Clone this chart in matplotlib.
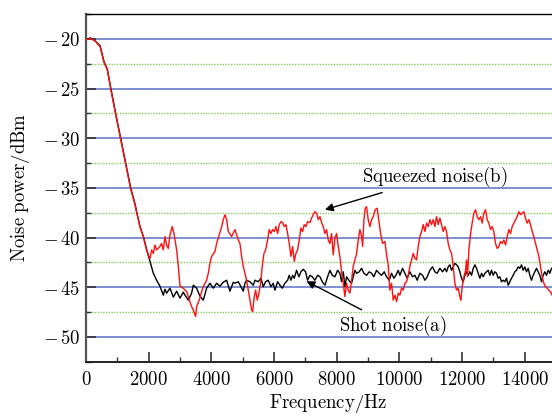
import matplotlib
matplotlib.use("Agg")
import matplotlib.pyplot as plt
from matplotlib.ticker import FuncFormatter, MultipleLocator

plt.rcParams["mathtext.fontset"] = "cm"

# shot noise (a)
freq_a = [0, 130, 290, 450, 575, 680, 787, 946, 1106, 1265, 1425, 1563, 1617, 1722,
          1829, 1935, 2041, 2148, 2254, 2360, 2467, 2520, 2573, 2680, 2786, 2892, 3000,
          3104, 3158, 3264, 3370, 3424, 3530, 3636, 3743, 3849, 3955, 4062, 4168, 4275,
          4380, 4488, 4593, 4700, 4753, 4860, 4966, 5018, 5072, 5125, 5231, 5338, 5391,
          5497, 5582, 5657, 5732, 5816, 5901, 5975, 6028, 6113, 6188, 6262, 6347, 6433,
          6486, 6540, 6593, 6645, 6720, 6794, 6858, 6932, 7006, 7070, 7145, 7219, 7305,
          7390, 7464, 7539, 7624, 7709, 7784, 7858, 7943, 8028, 8102, 8155, 8209, 8262,
          8315, 8368, 8421, 8475, 8527, 8581, 8635, 8719, 8794, 8868, 8953, 9037, 9113,
          9185, 9271, 9356, 9432, 9517, 9591, 9676, 9750, 9824, 9888, 9963, 10016, 10101,
          10176, 10250, 10335, 10420, 10495, 10569, 10654, 10740, 10814, 10888, 10973,
          11058, 11133, 11207, 11292, 11377, 11452, 11505, 11558, 11611, 11665, 11718,
          11771, 11825, 11877, 11930, 11983, 12036, 12090, 12144, 12197, 12250, 12303,
          12356, 12409, 12462, 12515, 12568, 12622, 12675, 12728, 12781, 12834, 12887,
          12940, 12993, 13046, 13099, 13153, 13206, 13259, 13312, 13365, 13418, 13472,
          13525, 13578, 13631, 13684, 13737, 13791, 13844, 13897, 13950, 14003, 14056,
          14110, 14163, 14216, 14269, 14322, 14375, 14429, 14482, 14535, 14588, 14641,
          14694, 14748, 14801, 14854]
noise_a = [-20.1, -19.9, -20.2, -20.7, -22.3, -23.1, -24.9, -27.5, -30.0, -32.5, -35.0,
           -36.6, -37.4, -38.9, -39.9, -41.2, -42.4, -43.6, -44.3, -44.9, -45.8, -45.2,
           -45.6, -45.1, -46.0, -45.4, -46.1, -45.5, -45.8, -46.3, -45.6, -44.8, -45.1,
           -45.9, -46.3, -45.1, -44.6, -45.1, -44.6, -44.9, -44.5, -44.3, -45.4, -44.5,
           -44.6, -44.45, -45.1, -45.4, -44.6, -44.3, -44.45, -44.8, -44.3, -44.45, -44.1,
           -44.95, -44.45, -44.3, -44.95, -44.6, -45.3, -44.45, -44.8, -45.1, -44.6, -44.3,
           -43.8, -44.3, -43.8, -44.1, -43.3, -43.95, -43.45, -43.2, -43.45, -44.3, -43.8,
           -43.95, -44.3, -43.8, -43.95, -44.45, -44.8, -43.95, -43.3, -43.8, -43.95, -43.3,
           -43.6, -44.45, -43.45, -44.95, -43.95, -44.2, -44.45, -44.6, -43.95, -43.3, -43.6,
           -43.45, -43.1, -43.6, -43.8, -43.45, -43.6, -43.95, -43.3, -43.6, -43.8, -43.45,
           -43.95, -44.3, -43.6, -44.1, -43.8, -43.3, -43.8, -43.1, -43.6, -44.1, -43.45,
           -43.95, -43.8, -44.3, -43.6, -43.8, -44.3, -43.95, -43.3, -42.95, -43.45, -43.6,
           -43.1, -43.45, -43.1, -43.45, -42.95, -42.75, -43.3, -42.95, -42.6, -42.75,
           -42.95, -43.45, -44.1, -44.45, -43.8, -43.45, -43.8, -43.45, -43.8, -43.1, -42.75,
           -43.1, -43.6, -44.1, -43.6, -43.95, -43.6, -43.45, -43.3, -43.8, -43.3, -43.8,
           -43.45, -43.6, -44.1, -43.95, -44.45, -44.3, -44.45, -44.1, -44.8, -44.45, -44.1,
           -43.8, -43.45, -43.3, -42.95, -43.1, -42.75, -43.3, -42.95, -43.45, -43.1, -43.8,
           -44.3, -43.8, -43.45, -43.1, -43.45, -43.8, -44.45, -43.8, -43.45, -43.8, -43.3,
           -43.6, -43.1]

# squeezed noise (b)
freq_b = [0, 130, 290, 450, 575, 680, 787, 946, 1106, 1265, 1425, 1563, 1617, 1722,
          1829, 1935, 1988, 2041, 2094, 2148, 2201, 2254, 2360, 2413, 2467, 2520, 2573,
          2626, 2680, 2753, 2807, 2892, 2945, 3000, 3104, 3211, 3295, 3370, 3424, 3498,
          3530, 3636, 3690, 3743, 3849, 3902, 3955, 4009, 4115, 4168, 4221, 4329, 4382,
          4434, 4488, 4541, 4647, 4753, 4860, 4912, 4966, 5018, 5072, 5125, 5178, 5231,
          5285, 5317, 5369, 5413, 5465, 5518, 5571, 5624, 5678, 5732, 5795, 5847, 5901,
          5954, 6007, 6061, 6113, 6166, 6220, 6273, 6327, 6379, 6433, 6486, 6540, 6593,
          6645, 6698, 6752, 6804, 6858, 6911, 6963, 7017, 7070, 7145, 7198, 7251, 7305,
          7358, 7411, 7464, 7517, 7571, 7624, 7677, 7730, 7784, 7837, 7889, 7943, 7996,
          8049, 8102, 8155, 8209, 8262, 8315, 8368, 8421, 8475, 8527, 8581, 8635, 8687,
          8740, 8794, 8826, 8868, 8910, 8953, 9005, 9059, 9113, 9164, 9228, 9292, 9356,
          9400, 9464, 9538, 9591, 9643, 9697, 9750, 9803, 9857, 9910, 9963, 10016, 10070,
          10123, 10176, 10229, 10282, 10335, 10389, 10442, 10495, 10548, 10601, 10654,
          10708, 10760, 10814, 10867, 10920, 10973, 11026, 11080, 11133, 11186, 11239,
          11292, 11345, 11399, 11452, 11505, 11558, 11611, 11665, 11718, 11771, 11825,
          11877, 11930, 11962, 12004, 12058, 12112, 12144, 12176, 12217, 12271, 12322,
          12376, 12430, 12483, 12536, 12589, 12642, 12695, 12749, 12802, 12855, 12908,
          12961, 13014, 13068, 13121, 13174, 13227, 13280, 13333, 13387, 13440, 13493,
          13546, 13599, 13652, 13706, 13759, 13812, 13865, 13918, 13971, 14025, 14078,
          14131, 14184, 14237, 14290, 14344, 14397, 14450, 14503, 14556, 14610, 14663,
          14716, 14769, 14822, 14875]
noise_b = [-20.1, -19.95, -20.2, -20.8, -22.4, -23.0, -25.0, -27.6, -30.1, -32.6, -35.1,
           -36.7, -37.5, -38.9, -39.9, -41.3, -41.75, -42.1, -41.25, -41.6, -40.75, -41.25,
           -40.9, -40.6, -41.25, -39.9, -40.75, -41.1, -39.7, -38.9, -39.6, -41.25, -42.9,
           -44.9, -45.1, -45.45, -46.3, -46.95, -47.3, -47.95, -46.95, -46.1, -45.45, -44.95,
           -44.3, -43.6, -42.6, -41.9, -41.4, -40.6, -40.05, -38.9, -38.2, -37.7, -38.2,
           -39.4, -39.9, -39.2, -40.25, -40.6, -41.9, -42.9, -43.6, -44.3, -45.3, -46.3,
           -47.3, -47.45, -45.95, -45.3, -46.3, -45.6, -44.6, -42.9, -41.6, -41.25, -40.25,
           -39.2, -39.6, -39.2, -39.4, -38.9, -39.6, -38.7, -38.4, -38.5, -38.9, -38.7,
           -39.6, -40.6, -41.9, -40.9, -42.4, -41.6, -41.25, -40.25, -39.05, -39.4, -38.7,
           -38.9, -38.4, -38.5, -38.05, -37.7, -37.4, -37.55, -38.2, -37.9, -38.5, -38.9,
           -39.6, -39.2, -40.25, -40.6, -39.6, -41.75, -40.1, -39.6, -40.9, -41.95, -43.45,
           -44.6, -45.95, -44.6, -45.3, -45.6, -44.3, -42.9, -42.25, -41.6, -40.25, -39.2,
           -39.9, -40.9, -38.2, -37.05, -36.9, -38.2, -38.9, -38.2, -37.9, -37.2, -37.05,
           -38.55, -39.6, -40.6, -40.4, -41.75, -42.75, -45.3, -44.6, -46.3, -45.8, -46.45,
           -45.6, -45.8, -45.1, -45.3, -44.6, -44.45, -43.8, -42.9, -42.25, -41.6, -42.1,
           -42.25, -40.9, -39.9, -39.4, -38.7, -39.4, -38.55, -38.9, -38.2, -38.7, -38.2,
           -38.9, -37.9, -38.7, -38.05, -38.7, -39.4, -38.9, -39.4, -40.6, -41.25, -41.6,
           -42.9, -44.6, -45.3, -45.1, -45.95, -46.3, -44.95, -43.95, -43.3, -42.25, -43.95,
           -41.25, -39.6, -38.55, -37.55, -37.2, -37.9, -38.2, -37.9, -38.55, -37.55, -37.2,
           -38.2, -38.55, -39.2, -38.9, -39.4, -40.6, -41.1, -40.9, -40.4, -40.6, -40.25,
           -40.75, -39.9, -39.2, -39.6, -38.9, -38.55, -38.2, -37.9, -37.4, -37.7, -37.55,
           -37.4, -38.05, -38.55, -38.2, -38.7, -39.4, -39.9, -40.6, -41.25, -41.9, -42.9,
           -43.95, -44.6, -44.95, -45.1, -45.3, -45.45, -45.8]

major_y = [-20, -25, -30, -35, -40, -45, -50]
minor_y = [-22.5, -27.5, -32.5, -37.5, -42.5, -47.5]
x_ticks = [0, 2000, 4000, 6000, 8000, 10000, 12000, 14000]

FS = 13.5


def tick_label(v, pos):
    if v < 0:
        return rf"$-\,{abs(v):.0f}$"
    return f"${v:.0f}$"


fig = plt.figure(figsize=(5.52, 4.16), dpi=100)
ax = fig.add_axes([86 / 552, 1 - 361.7 / 416, 466 / 552, 347.7 / 416])

for yv in major_y:
    ax.axhline(yv, color="#5a72c2", lw=1.1, zorder=1)
for yv in minor_y:
    ax.axhline(yv, color="#86cc5e", lw=1.0, ls=(0, (1, 1)), zorder=1)

ax.plot(freq_b, noise_b, color="#ff1010", lw=1.0, zorder=3)
ax.plot(freq_a, noise_a, color="black", lw=1.0, zorder=2)

ax.set_xlim(0, 14870)
ax.set_ylim(-52.5, -17.5)
ax.set_xticks(x_ticks)
ax.xaxis.set_minor_locator(MultipleLocator(1000))
ax.set_yticks(major_y)
ax.yaxis.set_minor_locator(MultipleLocator(2.5))

fmt = FuncFormatter(tick_label)
ax.xaxis.set_major_formatter(fmt)
ax.yaxis.set_major_formatter(fmt)
ax.tick_params(which="both", direction="in", top=False, right=False,
               labelsize=FS, color="#333333")
ax.tick_params(which="major", length=7, width=1.2)
ax.tick_params(which="minor", length=3.5, width=1.0)
ax.tick_params(axis="x", pad=6)
ax.tick_params(axis="y", pad=4)

ax.spines["right"].set_visible(False)
ax.spines["left"].set_color("#555555")
ax.spines["left"].set_linewidth(1.6)
ax.spines["bottom"].set_color("#222222")
ax.spines["bottom"].set_linewidth(1.4)
ax.spines["top"].set_linewidth(1.0)

ax.set_ylabel(r"$\mathrm{Noise\ power/dBm}$", fontsize=FS)
ax.yaxis.set_label_coords(-0.115, 0.5)
ax.set_xlabel(r"$\mathrm{Frequency/Hz}$", fontsize=FS)
ax.xaxis.set_label_coords(0.519, -0.088)

ax.annotate(r"$\mathrm{Squeezed\ noise(b)}$", xy=(7624, -37.2), xytext=(8794, -33.9),
            fontsize=FS, va="center", ha="left",
            arrowprops=dict(arrowstyle="-|>", color="black", lw=1.0,
                            shrinkA=2, shrinkB=0, mutation_scale=12))
ax.annotate(r"$\mathrm{Shot\ noise(a)}$", xy=(7037, -44.4), xytext=(8070, -48.9),
            fontsize=FS, va="center", ha="left",
            arrowprops=dict(arrowstyle="-|>", color="black", lw=1.0,
                            shrinkA=2, shrinkB=0, mutation_scale=12))

fig.savefig("out.png", dpi=100)
